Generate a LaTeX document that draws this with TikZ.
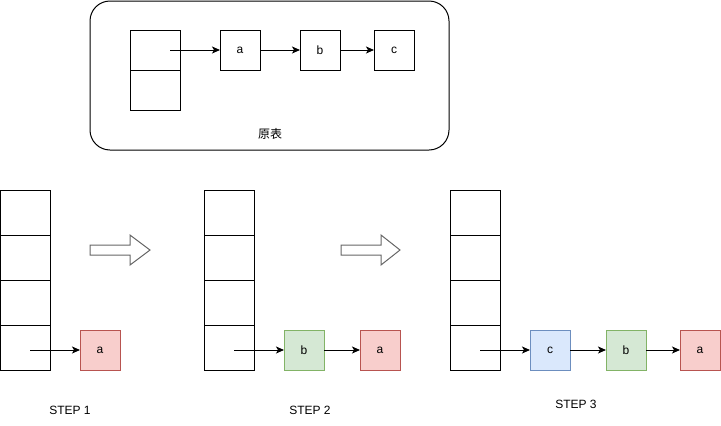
\documentclass[tikz,border=0pt]{standalone}
\usepackage{fontspec}
\setmainfont{Liberation Sans}
\newfontfamily\cjk{Noto Sans CJK SC}
\usetikzlibrary{positioning,arrows.meta}
\definecolor{redfill}{HTML}{F8CECC}
\definecolor{redline}{HTML}{B85450}
\definecolor{greenfill}{HTML}{D5E8D4}
\definecolor{greenline}{HTML}{82B366}
\definecolor{bluefill}{HTML}{DAE8FC}
\definecolor{blueline}{HTML}{6C8EBF}
\tikzset{cell/.style={draw,line width=1pt,minimum width=50pt,minimum height=45pt,inner sep=0pt,outer sep=0pt},
         elem/.style={draw,line width=1pt,minimum size=40pt,inner sep=0pt,outer sep=0pt,font=\fontsize{12}{14}\selectfont},
         redbox/.style={elem,fill=redfill,draw=redline},
         greenbox/.style={elem,fill=greenfill,draw=greenline},
         bluebox/.style={elem,fill=bluefill,draw=blueline},
         caption/.style={font=\fontsize{12}{14}\selectfont},
         bigarrow/.style={draw=black!60,line width=1pt,fill=white},
         line/.style={line width=1pt,-{Stealth[length=8pt,width=7pt,inset=2pt]}}
}

\begin{document}
\begin{tikzpicture}[x=1pt,y=-1pt]
\useasboundingbox (0,0) rectangle (721,426);

% original list
\draw[line width=1pt,rounded corners=20pt] (90,1) rectangle (449,150);
\node[cell,minimum height=40pt] (top1) at (155,50) {};
\node[cell,minimum height=40pt,below=0pt of top1] (top2) {};
\node[elem] (a0) at (240,50) {a};
\node[elem,right=40pt of a0] (b0) {b};
\node[elem,right=34pt of b0] (c0) {c};
\node[caption] (title) at (270,134) {\cjk 原表};
\coordinate (p0) at (170,50);
\draw[line] (p0)--(a0);
\draw[line] (a0)--(b0);
\draw[line] (b0)--(c0);

% step 1
\node[cell] (s1c1) at (25,212.5) {};
\node[cell,below=0pt of s1c1] (s1c2) {};
\node[cell,below=0pt of s1c2] (s1c3) {};
\node[cell,below=0pt of s1c3] (s1c4) {};
\node[redbox] (a1) at (100,350) {a};
\coordinate (p1) at (30,350);
\draw[line] (p1)--(a1);
\node[caption] (step1) at (70,410) {STEP 1};
\draw[bigarrow] (90,245)--(130,245)--(130,235)--(150,250)--(130,265)--(130,255)--(90,255)--cycle;

% step 2
\node[cell] (s2c1) at (229,212.5) {};
\node[cell,below=0pt of s2c1] (s2c2) {};
\node[cell,below=0pt of s2c2] (s2c3) {};
\node[cell,below=0pt of s2c3] (s2c4) {};
\node[greenbox] (b2) at (304,350) {b};
\node[redbox,right=36pt of b2] (a2) {a};
\coordinate (p2) at (234,350);
\draw[line] (p2)--(b2);
\draw[line] (b2)--(a2);
\node[caption] (step2) at (310,410) {STEP 2};
\draw[bigarrow] (341,245)--(381,245)--(381,235)--(400,250)--(381,265)--(381,255)--(341,255)--cycle;

% step 3
\node[cell] (s3c1) at (475,212.5) {};
\node[cell,below=0pt of s3c1] (s3c2) {};
\node[cell,below=0pt of s3c2] (s3c3) {};
\node[cell,below=0pt of s3c3] (s3c4) {};
\node[bluebox] (c3) at (550,350) {c};
\node[greenbox,right=36pt of c3] (b3) {b};
\node[redbox,right=34pt of b3] (a3) {a};
\coordinate (p3) at (480,350);
\draw[line] (p3)--(c3);
\draw[line] (c3)--(b3);
\draw[line] (b3)--(a3);
\node[caption] (step3) at (576,404) {STEP 3};

\end{tikzpicture}
\end{document}
